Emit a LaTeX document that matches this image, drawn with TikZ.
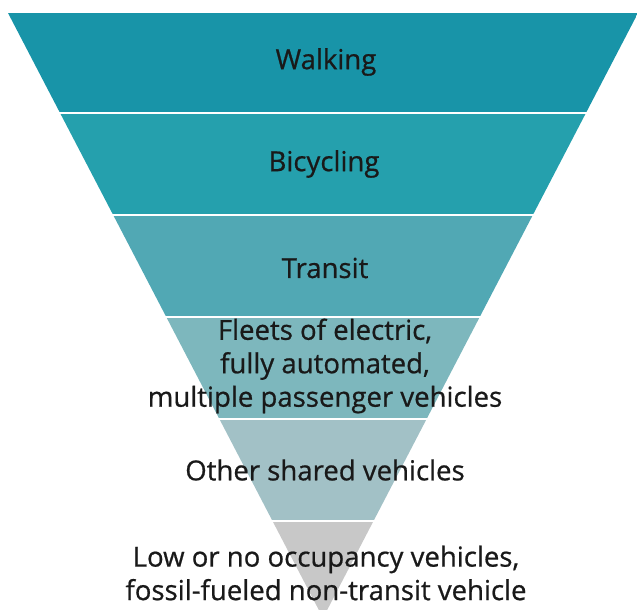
\documentclass[tikz,border=0pt]{standalone}
\usepackage{fontspec}
\setmainfont{Open Sans}
\newfontfamily\lblfont{Open Sans}[FakeBold=0.7]
\usepackage{xcolor}
\usepackage{tikz}

\definecolor{bandA}{RGB}{24,148,168}
\definecolor{bandB}{RGB}{37,160,173}
\definecolor{bandC}{RGB}{81,168,180}
\definecolor{bandD}{RGB}{125,183,189}
\definecolor{bandE}{RGB}{162,193,198}
\definecolor{bandF}{RGB}{200,200,200}

\tikzset{
	lbl/.style={align=center, text=black!90, font=\lblfont\fontsize{19.6}{23.8}\selectfont, inner sep=0pt}
}

\begin{document}
\begin{tikzpicture}[x=0.025cm, y=-0.025cm]
			\useasboundingbox (0,0) rectangle (637,610);
			\begin{scope}
				\clip (0,0) rectangle (637,610);
				\clip (8,13) -- (638,13) -- (323,618) -- cycle;
				\fill[bandA] (0,13) rectangle (640,112);
				\fill[bandB] (0,114) rectangle (640,214);
				\fill[bandC] (0,216) rectangle (640,316);
				\fill[bandD] (0,318) rectangle (640,418);
				\fill[bandE] (0,420) rectangle (640,520);
				\fill[bandF] (0,522) rectangle (640,620);
			\end{scope}
		
			\node[lbl] (walk) at (326,62) {Walking};
			\node[lbl] (bike) at (324,164) {Bicycling};
			\node[lbl] (transit) at (325,268) {Transit};
			\node[lbl] (fleet) at (325,366) {Fleets of electric,\\fully automated,\\multiple passenger vehicles};
			\node[lbl] (shared) at (325,470) {Other shared vehicles};
			\node[lbl] (lowocc) at (326,573) {Low or no occupancy vehicles,\\fossil-fueled non-transit vehicle};
		\end{tikzpicture}
\end{document}
